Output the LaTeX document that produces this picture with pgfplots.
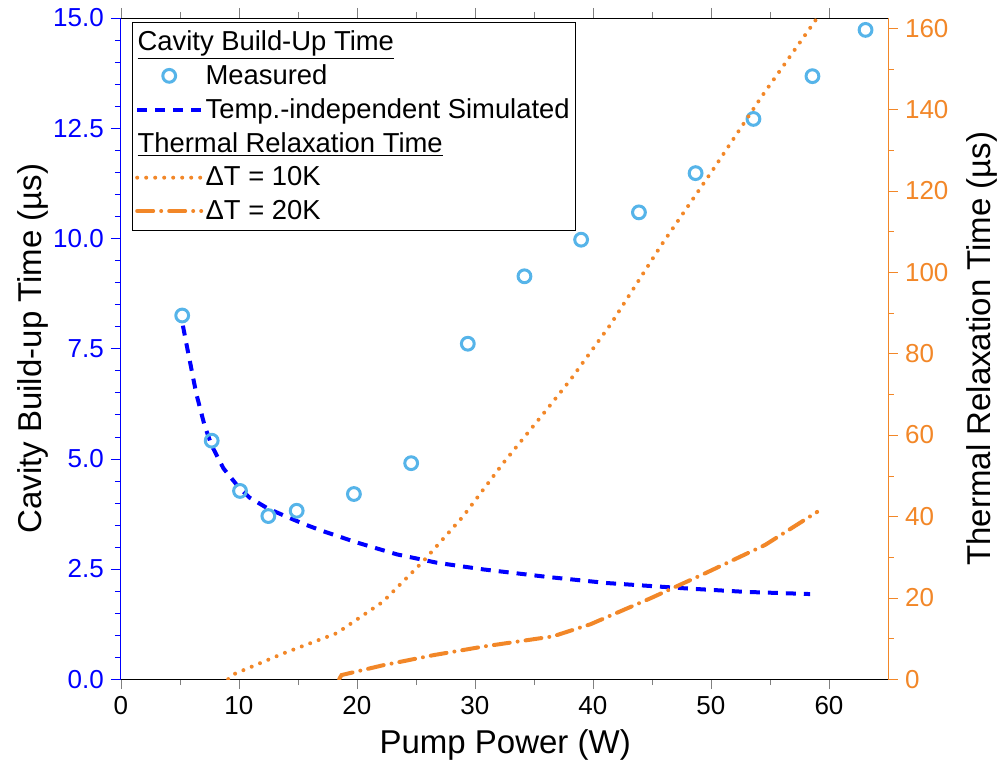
\documentclass[border=0pt]{standalone}
\usepackage{fontspec}
\setmainfont{Liberation Sans}
\usepackage{pgfplots}
\pgfplotsset{compat=1.18}

\definecolor{simblue}{RGB}{0,0,255}
\definecolor{measblue}{RGB}{86,180,233}
\definecolor{orng}{RGB}{242,135,40}

\pgfplotsset{
  common/.style={
    scale only axis, width=383.5pt, height=330.5pt,
    xmin=0, xmax=65,
    tick align=outside,
    major tick length=5pt, minor tick length=3pt,
    tick label style={font=\fontsize{13}{15}\selectfont},
    label style={font=\fontsize{16.5}{19}\selectfont},
    /pgf/number format/assume math mode=true,
  },
  legline/.style={legend image code/.code={\draw[##1] (0pt,0pt) -- (32pt,0pt);}},
  legmark/.style={legend image code/.code={\draw[##1] plot coordinates {(16pt,0pt)};}},
}

\begin{document}
\begin{tikzpicture}
\begin{axis}[
  common,
  ymin=0, ymax=15,
  xtick={0,10,...,60}, minor x tick num=1,
  ytick={0,2.5,5,7.5,10,12.5,15},
  yticklabels={0.0,2.5,5.0,7.5,10.0,12.5,15.0},
  minor y tick num=4,
  xtick pos=both, xticklabel pos=lower, ytick pos=left,
  separate axis lines,
  y axis line style={simblue},
  every y tick/.append style={simblue},
  yticklabel style={simblue},
  xlabel={Pump Power (W)},
  ylabel={Cavity Build-up Time (µs)},
  xlabel style={at={(axis description cs:0.501,-0.1)}, anchor=center},
  ylabel style={at={(axis description cs:-0.1145,0.5)}, anchor=center},
]
\addplot[simblue, line width=2pt, dash pattern=on 5pt off 4pt] coordinates {
  (5.26,8.02) (5.6,7.55) (6.4,6.47) (7.1,5.75) (7.7,5.30) (8.7,4.78)
  (10.0,4.35) (10.9,4.12) (12.4,3.88) (13.75,3.72) (15.5,3.52) (17.1,3.36)
  (20.0,3.10) (23.4,2.83) (26.8,2.64) (30.7,2.49) (36.1,2.32) (41.2,2.18)
  (47.8,2.06) (52.9,1.98) (58.4,1.93)
};
\addplot[only marks, mark=o, mark size=3.2pt, measblue, line width=1.5pt] coordinates {
  (5.2,8.25) (7.7,5.41) (10.1,4.27) (12.5,3.70) (14.9,3.82) (19.75,4.20)
  (24.6,4.90) (29.4,7.61) (34.2,9.14) (39.0,9.97) (43.9,10.59) (48.7,11.48)
  (53.6,12.71) (58.6,13.68) (63.1,14.73)
};
\end{axis}

\begin{axis}[
  common,
  ymin=0, ymax=162.5,
  axis x line=none, axis y line*=right,
  ytick={0,20,...,160}, minor y tick num=1,
  y axis line style={orng},
  every y tick/.append style={orng},
  yticklabel style={orng},
  ylabel={Thermal Relaxation Time (µs)},
  ylabel style={at={(axis description cs:1.1228,0.5)}, anchor=center},
  legend cell align=left,
  legend style={at={(0.0143,0.994)}, anchor=north west, draw=black,
    font=\fontsize{13.7}{16}\selectfont, inner xsep=1.5pt, inner ysep=2pt,
    row sep=1.6pt, nodes={inner xsep=1.2pt}},
]
\addlegendimage{empty legend}
\addlegendentry{\hspace*{-34pt}\underline{Cavity Build-Up Time}}
\addlegendimage{only marks, mark=o, mark size=3.2pt, measblue, line width=1.5pt, legmark}
\addlegendentry{Measured}
\addlegendimage{simblue, line width=2pt, dash pattern=on 5pt off 4pt, legline}
\addlegendentry{Temp.-independent Simulated}
\addlegendimage{empty legend}
\addlegendentry{\hspace*{-34pt}\underline{Thermal Relaxation Time}}
\addplot[orng, line width=2pt, line cap=round, dash pattern=on 0pt off 4.5pt, legline] coordinates {
  (9.1,0) (9.4,1) (13.75,6.3) (18.3,11.3) (22.2,19.0) (25.6,28.9) (29.0,40.0)
  (32.4,53.1) (36.1,66.3) (38.1,73.6) (41.5,87.2) (45.8,106.7) (50.1,124.9)
  (54.3,143.2) (59.0,162.5)
};
\addlegendentry{ΔT = 10K}
\addplot[orng, line width=2pt, line cap=round,
  dash pattern=on 8pt off 4pt on 0pt off 4pt, legline] coordinates {
  (18.5,0) (18.7,1) (22.2,3.4) (26.5,5.9) (30.7,8.0) (36.6,10.5) (39.8,13.5)
  (44.9,19.9) (49.5,26.0) (54.6,33.0) (59.0,41.1)
};
\addlegendentry{ΔT = 20K}
\end{axis}
\pgfresetboundingbox
\path (-60.4pt,-43pt) rectangle (439.5pt,339.5pt);
\end{tikzpicture}
\end{document}
